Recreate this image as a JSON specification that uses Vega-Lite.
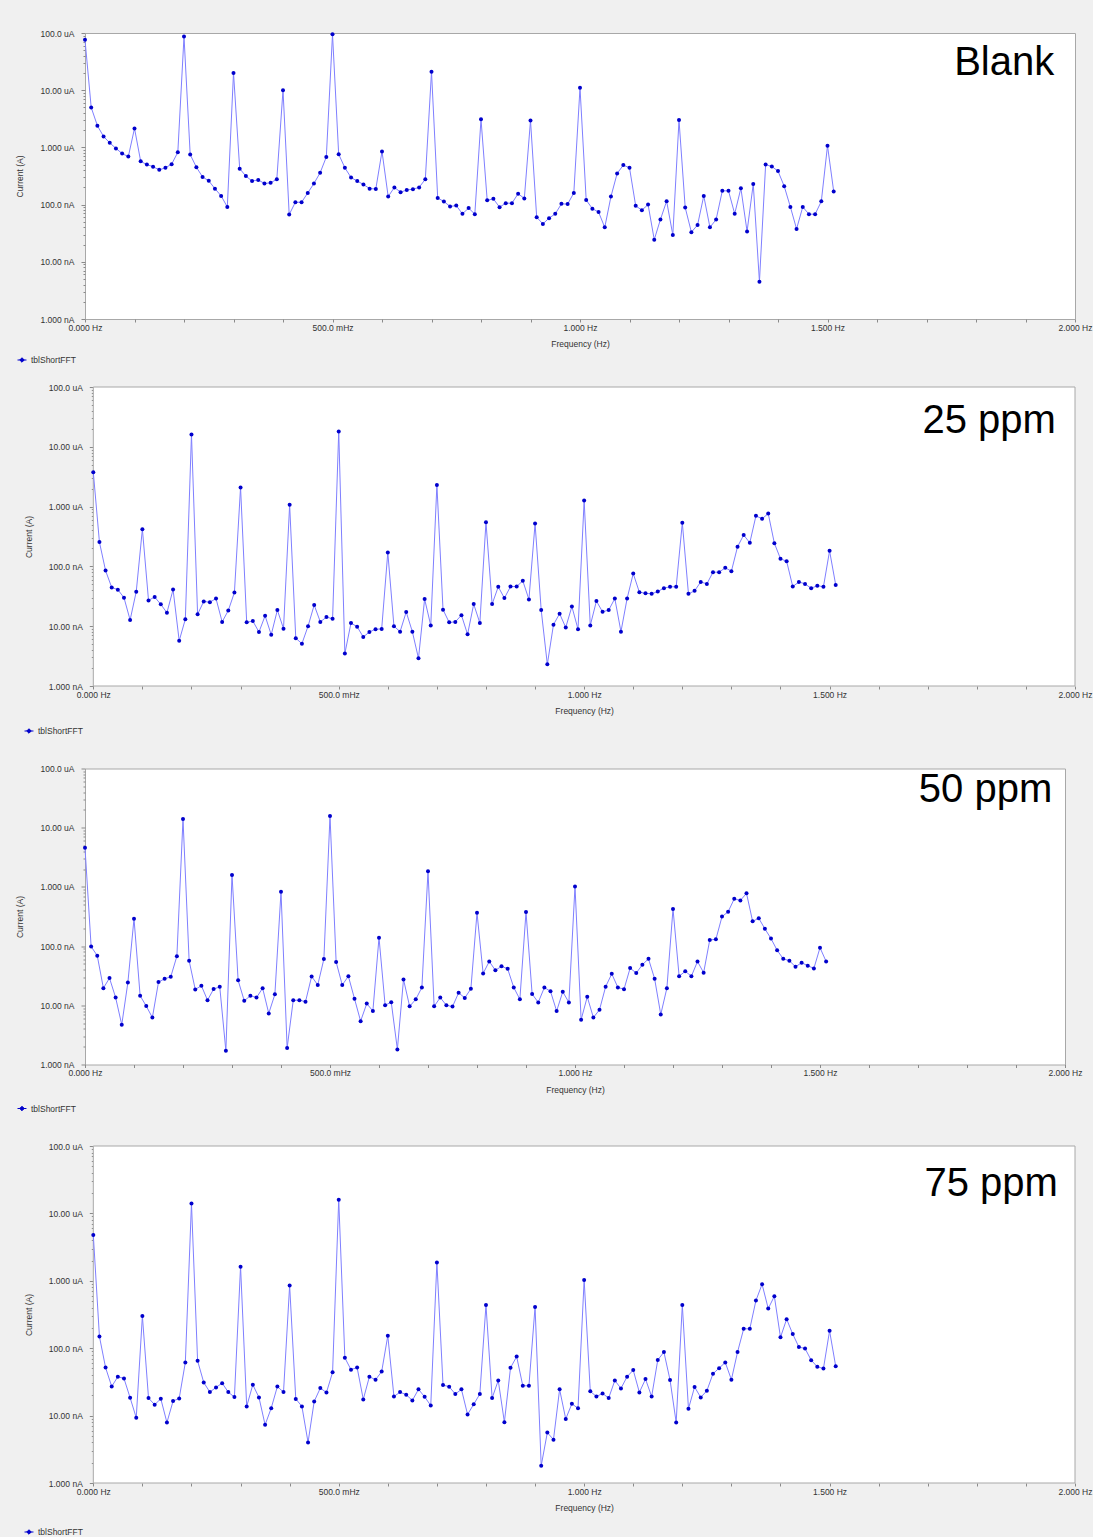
{
  "$schema": "https://vega.github.io/schema/vega-lite/v6.json",
  "background": "#f0f0f0",
  "padding": {"left": 15, "top": 28, "right": 0, "bottom": 0},
  "config": {
    "font": "Liberation Sans",
    "axis": {"labelFont": "Liberation Sans", "labelFontSize": 8.5, "labelColor": "#333333", "titleFont": "Liberation Sans", "titleFontSize": 8.5, "titleFontWeight": "normal", "titleColor": "#333333", "tickColor": "#8a8a8a", "grid": false, "domain": false},
    "view": {"fill": "white", "stroke": "#a8a8a8", "strokeWidth": 1},
    "legend": {"labelFont": "Liberation Sans", "labelFontSize": 8.5, "labelColor": "#333333", "padding": 0}
  },
  "datasets": {
    "blank": [
      {"freq":0,"current_nA":76000},{"freq":0.0125,"current_nA":5000},{"freq":0.025,"current_nA":2400},{"freq":0.0375,"current_nA":1550},{"freq":0.05,"current_nA":1200},{"freq":0.0625,"current_nA":960},{"freq":0.075,"current_nA":780},{"freq":0.0875,"current_nA":690},{"freq":0.1,"current_nA":2150},{"freq":0.1125,"current_nA":570},{"freq":0.125,"current_nA":500},{"freq":0.1375,"current_nA":460},{"freq":0.15,"current_nA":405},{"freq":0.1625,"current_nA":440},{"freq":0.175,"current_nA":510},{"freq":0.1875,"current_nA":820},{"freq":0.2,"current_nA":87000},{"freq":0.2125,"current_nA":750},{"freq":0.225,"current_nA":450},{"freq":0.2375,"current_nA":305},{"freq":0.25,"current_nA":260},{"freq":0.2625,"current_nA":190},{"freq":0.275,"current_nA":142},{"freq":0.2875,"current_nA":91},{"freq":0.3,"current_nA":20000},{"freq":0.3125,"current_nA":425},{"freq":0.325,"current_nA":315},{"freq":0.3375,"current_nA":258},{"freq":0.35,"current_nA":270},{"freq":0.3625,"current_nA":234},{"freq":0.375,"current_nA":240},{"freq":0.3875,"current_nA":278},{"freq":0.4,"current_nA":10000},{"freq":0.4125,"current_nA":67},{"freq":0.425,"current_nA":110},{"freq":0.4375,"current_nA":110},{"freq":0.45,"current_nA":160},{"freq":0.4625,"current_nA":234},{"freq":0.475,"current_nA":360},{"freq":0.4875,"current_nA":680},{"freq":0.5,"current_nA":95000},{"freq":0.5125,"current_nA":760},{"freq":0.525,"current_nA":440},{"freq":0.5375,"current_nA":297},{"freq":0.55,"current_nA":258},{"freq":0.5625,"current_nA":225},{"freq":0.575,"current_nA":190},{"freq":0.5875,"current_nA":188},{"freq":0.6,"current_nA":850},{"freq":0.6125,"current_nA":138},{"freq":0.625,"current_nA":200},{"freq":0.6375,"current_nA":165},{"freq":0.65,"current_nA":180},{"freq":0.6625,"current_nA":186},{"freq":0.675,"current_nA":200},{"freq":0.6875,"current_nA":278},{"freq":0.7,"current_nA":21000},{"freq":0.7125,"current_nA":131},{"freq":0.725,"current_nA":113},{"freq":0.7375,"current_nA":93},{"freq":0.75,"current_nA":96},{"freq":0.7625,"current_nA":69},{"freq":0.775,"current_nA":87},{"freq":0.7875,"current_nA":68},{"freq":0.8,"current_nA":3100},{"freq":0.8125,"current_nA":119},{"freq":0.825,"current_nA":126},{"freq":0.8375,"current_nA":90},{"freq":0.85,"current_nA":106},{"freq":0.8625,"current_nA":106},{"freq":0.875,"current_nA":155},{"freq":0.8875,"current_nA":128},{"freq":0.9,"current_nA":2950},{"freq":0.9125,"current_nA":60},{"freq":0.925,"current_nA":46},{"freq":0.9375,"current_nA":58},{"freq":0.95,"current_nA":69},{"freq":0.9625,"current_nA":103},{"freq":0.975,"current_nA":102},{"freq":0.9875,"current_nA":160},{"freq":1.0,"current_nA":11000},{"freq":1.0125,"current_nA":120},{"freq":1.025,"current_nA":85},{"freq":1.0375,"current_nA":74},{"freq":1.05,"current_nA":40},{"freq":1.0625,"current_nA":138},{"freq":1.075,"current_nA":350},{"freq":1.0875,"current_nA":490},{"freq":1.1,"current_nA":440},{"freq":1.1125,"current_nA":95},{"freq":1.125,"current_nA":80},{"freq":1.1375,"current_nA":100},{"freq":1.15,"current_nA":24.4},{"freq":1.1625,"current_nA":55},{"freq":1.175,"current_nA":115},{"freq":1.1875,"current_nA":29.5},{"freq":1.2,"current_nA":3000},{"freq":1.2125,"current_nA":89},{"freq":1.225,"current_nA":33},{"freq":1.2375,"current_nA":44},{"freq":1.25,"current_nA":142},{"freq":1.2625,"current_nA":40},{"freq":1.275,"current_nA":55},{"freq":1.2875,"current_nA":174},{"freq":1.3,"current_nA":174},{"freq":1.3125,"current_nA":69},{"freq":1.325,"current_nA":193},{"freq":1.3375,"current_nA":34},{"freq":1.35,"current_nA":230},{"freq":1.3625,"current_nA":4.5},{"freq":1.375,"current_nA":500},{"freq":1.3875,"current_nA":465},{"freq":1.4,"current_nA":385},{"freq":1.4125,"current_nA":210},{"freq":1.425,"current_nA":91},{"freq":1.4375,"current_nA":37.5},{"freq":1.45,"current_nA":91},{"freq":1.4625,"current_nA":68},{"freq":1.475,"current_nA":68},{"freq":1.4875,"current_nA":114},{"freq":1.5,"current_nA":1070},{"freq":1.5125,"current_nA":170}
    ],
    "ppm25": [
      {"freq":0,"current_nA":3750},{"freq":0.0125,"current_nA":255},{"freq":0.025,"current_nA":85},{"freq":0.0375,"current_nA":44.5},{"freq":0.05,"current_nA":40.8},{"freq":0.0625,"current_nA":30},{"freq":0.075,"current_nA":12.7},{"freq":0.0875,"current_nA":37.8},{"freq":0.1,"current_nA":420},{"freq":0.1125,"current_nA":27},{"freq":0.125,"current_nA":30.8},{"freq":0.1375,"current_nA":23.2},{"freq":0.15,"current_nA":16.8},{"freq":0.1625,"current_nA":41},{"freq":0.175,"current_nA":5.7},{"freq":0.1875,"current_nA":13.1},{"freq":0.2,"current_nA":16000},{"freq":0.2125,"current_nA":15.8},{"freq":0.225,"current_nA":26},{"freq":0.2375,"current_nA":25.2},{"freq":0.25,"current_nA":29},{"freq":0.2625,"current_nA":11.8},{"freq":0.275,"current_nA":18.3},{"freq":0.2875,"current_nA":36.6},{"freq":0.3,"current_nA":2090},{"freq":0.3125,"current_nA":11.6},{"freq":0.325,"current_nA":12.2},{"freq":0.3375,"current_nA":8},{"freq":0.35,"current_nA":14.9},{"freq":0.3625,"current_nA":7.2},{"freq":0.375,"current_nA":18.6},{"freq":0.3875,"current_nA":9.1},{"freq":0.4,"current_nA":1070},{"freq":0.4125,"current_nA":6.3},{"freq":0.425,"current_nA":5.1},{"freq":0.4375,"current_nA":10},{"freq":0.45,"current_nA":22.6},{"freq":0.4625,"current_nA":11.8},{"freq":0.475,"current_nA":14.2},{"freq":0.4875,"current_nA":13.3},{"freq":0.5,"current_nA":18000},{"freq":0.5125,"current_nA":3.5},{"freq":0.525,"current_nA":11.3},{"freq":0.5375,"current_nA":9.8},{"freq":0.55,"current_nA":6.6},{"freq":0.5625,"current_nA":8},{"freq":0.575,"current_nA":8.9},{"freq":0.5875,"current_nA":9},{"freq":0.6,"current_nA":171},{"freq":0.6125,"current_nA":10},{"freq":0.625,"current_nA":8.1},{"freq":0.6375,"current_nA":17.3},{"freq":0.65,"current_nA":8.1},{"freq":0.6625,"current_nA":2.9},{"freq":0.675,"current_nA":28.4},{"freq":0.6875,"current_nA":10.3},{"freq":0.7,"current_nA":2300},{"freq":0.7125,"current_nA":18.9},{"freq":0.725,"current_nA":11.6},{"freq":0.7375,"current_nA":11.8},{"freq":0.75,"current_nA":15.3},{"freq":0.7625,"current_nA":7.3},{"freq":0.775,"current_nA":23.4},{"freq":0.7875,"current_nA":11.3},{"freq":0.8,"current_nA":550},{"freq":0.8125,"current_nA":23.4},{"freq":0.825,"current_nA":45.6},{"freq":0.8375,"current_nA":29.5},{"freq":0.85,"current_nA":46},{"freq":0.8625,"current_nA":46},{"freq":0.875,"current_nA":57.5},{"freq":0.8875,"current_nA":28},{"freq":0.9,"current_nA":520},{"freq":0.9125,"current_nA":18.6},{"freq":0.925,"current_nA":2.3},{"freq":0.9375,"current_nA":10.6},{"freq":0.95,"current_nA":16.2},{"freq":0.9625,"current_nA":9.5},{"freq":0.975,"current_nA":21.4},{"freq":0.9875,"current_nA":8.9},{"freq":1.0,"current_nA":1260},{"freq":1.0125,"current_nA":10.3},{"freq":1.025,"current_nA":26.3},{"freq":1.0375,"current_nA":17.4},{"freq":1.05,"current_nA":18.6},{"freq":1.0625,"current_nA":29},{"freq":1.075,"current_nA":8.1},{"freq":1.0875,"current_nA":29},{"freq":1.1,"current_nA":76},{"freq":1.1125,"current_nA":37},{"freq":1.125,"current_nA":35.6},{"freq":1.1375,"current_nA":34.8},{"freq":1.15,"current_nA":38},{"freq":1.1625,"current_nA":43.3},{"freq":1.175,"current_nA":45.6},{"freq":1.1875,"current_nA":45.6},{"freq":1.2,"current_nA":535},{"freq":1.2125,"current_nA":34.8},{"freq":1.225,"current_nA":39},{"freq":1.2375,"current_nA":55},{"freq":1.25,"current_nA":51},{"freq":1.2625,"current_nA":80},{"freq":1.275,"current_nA":80},{"freq":1.2875,"current_nA":95},{"freq":1.3,"current_nA":83},{"freq":1.3125,"current_nA":213},{"freq":1.325,"current_nA":335},{"freq":1.3375,"current_nA":248},{"freq":1.35,"current_nA":700},{"freq":1.3625,"current_nA":625},{"freq":1.375,"current_nA":765},{"freq":1.3875,"current_nA":245},{"freq":1.4,"current_nA":134},{"freq":1.4125,"current_nA":122},{"freq":1.425,"current_nA":46},{"freq":1.4375,"current_nA":55},{"freq":1.45,"current_nA":51},{"freq":1.4625,"current_nA":43},{"freq":1.475,"current_nA":47.6},{"freq":1.4875,"current_nA":45.6},{"freq":1.5,"current_nA":182},{"freq":1.5125,"current_nA":49}
    ],
    "ppm50": [
      {"freq":0,"current_nA":4600},{"freq":0.0125,"current_nA":98},{"freq":0.025,"current_nA":69},{"freq":0.0375,"current_nA":19.5},{"freq":0.05,"current_nA":28.8},{"freq":0.0625,"current_nA":13.5},{"freq":0.075,"current_nA":4.7},{"freq":0.0875,"current_nA":24.3},{"freq":0.1,"current_nA":290},{"freq":0.1125,"current_nA":14.5},{"freq":0.125,"current_nA":9.7},{"freq":0.1375,"current_nA":6.2},{"freq":0.15,"current_nA":24.7},{"freq":0.1625,"current_nA":28},{"freq":0.175,"current_nA":30.3},{"freq":0.1875,"current_nA":67.5},{"freq":0.2,"current_nA":14000},{"freq":0.2125,"current_nA":56.5},{"freq":0.225,"current_nA":18.5},{"freq":0.2375,"current_nA":21.4},{"freq":0.25,"current_nA":12.2},{"freq":0.2625,"current_nA":18.8},{"freq":0.275,"current_nA":20.5},{"freq":0.2875,"current_nA":1.7},{"freq":0.3,"current_nA":1590},{"freq":0.3125,"current_nA":26.4},{"freq":0.325,"current_nA":11.9},{"freq":0.3375,"current_nA":14.5},{"freq":0.35,"current_nA":13.5},{"freq":0.3625,"current_nA":19.5},{"freq":0.375,"current_nA":7.3},{"freq":0.3875,"current_nA":15.3},{"freq":0.4,"current_nA":830},{"freq":0.4125,"current_nA":1.9},{"freq":0.425,"current_nA":12.2},{"freq":0.4375,"current_nA":12.2},{"freq":0.45,"current_nA":11.5},{"freq":0.4625,"current_nA":30.8},{"freq":0.475,"current_nA":22},{"freq":0.4875,"current_nA":60.5},{"freq":0.5,"current_nA":15800},{"freq":0.5125,"current_nA":54},{"freq":0.525,"current_nA":22},{"freq":0.5375,"current_nA":31},{"freq":0.55,"current_nA":12.9},{"freq":0.5625,"current_nA":5.4},{"freq":0.575,"current_nA":10.7},{"freq":0.5875,"current_nA":8},{"freq":0.6,"current_nA":139},{"freq":0.6125,"current_nA":10},{"freq":0.625,"current_nA":11.3},{"freq":0.6375,"current_nA":1.8},{"freq":0.65,"current_nA":27.4},{"freq":0.6625,"current_nA":9.6},{"freq":0.675,"current_nA":12.6},{"freq":0.6875,"current_nA":20},{"freq":0.7,"current_nA":1830},{"freq":0.7125,"current_nA":9.6},{"freq":0.725,"current_nA":13.5},{"freq":0.7375,"current_nA":10},{"freq":0.75,"current_nA":9.5},{"freq":0.7625,"current_nA":16.3},{"freq":0.775,"current_nA":13.3},{"freq":0.7875,"current_nA":19},{"freq":0.8,"current_nA":365},{"freq":0.8125,"current_nA":34.5},{"freq":0.825,"current_nA":55},{"freq":0.8375,"current_nA":39},{"freq":0.85,"current_nA":45.5},{"freq":0.8625,"current_nA":41.5},{"freq":0.875,"current_nA":20},{"freq":0.8875,"current_nA":12.6},{"freq":0.9,"current_nA":377},{"freq":0.9125,"current_nA":15.5},{"freq":0.925,"current_nA":11.2},{"freq":0.9375,"current_nA":20},{"freq":0.95,"current_nA":17.2},{"freq":0.9625,"current_nA":8},{"freq":0.975,"current_nA":16.9},{"freq":0.9875,"current_nA":11.2},{"freq":1.0,"current_nA":1020},{"freq":1.0125,"current_nA":5.7},{"freq":1.025,"current_nA":13.9},{"freq":1.0375,"current_nA":6.2},{"freq":1.05,"current_nA":8.4},{"freq":1.0625,"current_nA":20.6},{"freq":1.075,"current_nA":34},{"freq":1.0875,"current_nA":20},{"freq":1.1,"current_nA":18.7},{"freq":1.1125,"current_nA":42.5},{"freq":1.125,"current_nA":35},{"freq":1.1375,"current_nA":48.5},{"freq":1.15,"current_nA":61},{"freq":1.1625,"current_nA":28},{"freq":1.175,"current_nA":7},{"freq":1.1875,"current_nA":19.5},{"freq":1.2,"current_nA":425},{"freq":1.2125,"current_nA":31},{"freq":1.225,"current_nA":37.5},{"freq":1.2375,"current_nA":31},{"freq":1.25,"current_nA":55},{"freq":1.2625,"current_nA":35.5},{"freq":1.275,"current_nA":127},{"freq":1.2875,"current_nA":130},{"freq":1.3,"current_nA":315},{"freq":1.3125,"current_nA":380},{"freq":1.325,"current_nA":630},{"freq":1.3375,"current_nA":590},{"freq":1.35,"current_nA":780},{"freq":1.3625,"current_nA":262},{"freq":1.375,"current_nA":295},{"freq":1.3875,"current_nA":196},{"freq":1.4,"current_nA":134},{"freq":1.4125,"current_nA":85},{"freq":1.425,"current_nA":61},{"freq":1.4375,"current_nA":56.5},{"freq":1.45,"current_nA":44.7},{"freq":1.4625,"current_nA":52.4},{"freq":1.475,"current_nA":46.6},{"freq":1.4875,"current_nA":42},{"freq":1.5,"current_nA":94},{"freq":1.5125,"current_nA":55}
    ],
    "ppm75": [
      {"freq":0,"current_nA":4800},{"freq":0.0125,"current_nA":149},{"freq":0.025,"current_nA":51.6},{"freq":0.0375,"current_nA":27},{"freq":0.05,"current_nA":37.8},{"freq":0.0625,"current_nA":35.6},{"freq":0.075,"current_nA":18.4},{"freq":0.0875,"current_nA":9.3},{"freq":0.1,"current_nA":300},{"freq":0.1125,"current_nA":18.2},{"freq":0.125,"current_nA":14.5},{"freq":0.1375,"current_nA":17.8},{"freq":0.15,"current_nA":7.9},{"freq":0.1625,"current_nA":16.4},{"freq":0.175,"current_nA":18},{"freq":0.1875,"current_nA":61.5},{"freq":0.2,"current_nA":14000},{"freq":0.2125,"current_nA":65},{"freq":0.225,"current_nA":31},{"freq":0.2375,"current_nA":22.3},{"freq":0.25,"current_nA":26.2},{"freq":0.2625,"current_nA":30.3},{"freq":0.275,"current_nA":22.3},{"freq":0.2875,"current_nA":18.8},{"freq":0.3,"current_nA":1620},{"freq":0.3125,"current_nA":13.7},{"freq":0.325,"current_nA":28.7},{"freq":0.3375,"current_nA":18.6},{"freq":0.35,"current_nA":7.3},{"freq":0.3625,"current_nA":12.9},{"freq":0.375,"current_nA":27},{"freq":0.3875,"current_nA":22.3},{"freq":0.4,"current_nA":850},{"freq":0.4125,"current_nA":17.7},{"freq":0.425,"current_nA":13.7},{"freq":0.4375,"current_nA":4},{"freq":0.45,"current_nA":16.2},{"freq":0.4625,"current_nA":25.6},{"freq":0.475,"current_nA":22},{"freq":0.4875,"current_nA":44},{"freq":0.5,"current_nA":16000},{"freq":0.5125,"current_nA":72},{"freq":0.525,"current_nA":48},{"freq":0.5375,"current_nA":51.6},{"freq":0.55,"current_nA":17.4},{"freq":0.5625,"current_nA":37.8},{"freq":0.575,"current_nA":34},{"freq":0.5875,"current_nA":45},{"freq":0.6,"current_nA":153},{"freq":0.6125,"current_nA":19.2},{"freq":0.625,"current_nA":22.3},{"freq":0.6375,"current_nA":20.4},{"freq":0.65,"current_nA":16.8},{"freq":0.6625,"current_nA":24.5},{"freq":0.675,"current_nA":19},{"freq":0.6875,"current_nA":14.1},{"freq":0.7,"current_nA":1870},{"freq":0.7125,"current_nA":28.4},{"freq":0.725,"current_nA":26.8},{"freq":0.7375,"current_nA":20.9},{"freq":0.75,"current_nA":24.5},{"freq":0.7625,"current_nA":10.4},{"freq":0.775,"current_nA":14.7},{"freq":0.7875,"current_nA":20.9},{"freq":0.8,"current_nA":436},{"freq":0.8125,"current_nA":18.2},{"freq":0.825,"current_nA":33.2},{"freq":0.8375,"current_nA":8},{"freq":0.85,"current_nA":51.3},{"freq":0.8625,"current_nA":75},{"freq":0.875,"current_nA":27.7},{"freq":0.8875,"current_nA":27.7},{"freq":0.9,"current_nA":410},{"freq":0.9125,"current_nA":1.8},{"freq":0.925,"current_nA":5.6},{"freq":0.9375,"current_nA":4.4},{"freq":0.95,"current_nA":24.5},{"freq":0.9625,"current_nA":8.9},{"freq":0.975,"current_nA":15},{"freq":0.9875,"current_nA":12.8},{"freq":1.0,"current_nA":1030},{"freq":1.0125,"current_nA":22.9},{"freq":1.025,"current_nA":19.2},{"freq":1.0375,"current_nA":21.3},{"freq":1.05,"current_nA":18.2},{"freq":1.0625,"current_nA":33.2},{"freq":1.075,"current_nA":25.3},{"freq":1.0875,"current_nA":37.8},{"freq":1.1,"current_nA":47.3},{"freq":1.1125,"current_nA":22.1},{"freq":1.125,"current_nA":34.8},{"freq":1.1375,"current_nA":19.2},{"freq":1.15,"current_nA":67},{"freq":1.1625,"current_nA":87.6},{"freq":1.175,"current_nA":33.7},{"freq":1.1875,"current_nA":7.9},{"freq":1.2,"current_nA":436},{"freq":1.2125,"current_nA":12.6},{"freq":1.225,"current_nA":26.6},{"freq":1.2375,"current_nA":18.6},{"freq":1.25,"current_nA":23.4},{"freq":1.2625,"current_nA":41.8},{"freq":1.275,"current_nA":50.6},{"freq":1.2875,"current_nA":61.5},{"freq":1.3,"current_nA":34.1},{"freq":1.3125,"current_nA":87.6},{"freq":1.325,"current_nA":194},{"freq":1.3375,"current_nA":194},{"freq":1.35,"current_nA":510},{"freq":1.3625,"current_nA":890},{"freq":1.375,"current_nA":387},{"freq":1.3875,"current_nA":590},{"freq":1.4,"current_nA":145},{"freq":1.4125,"current_nA":270},{"freq":1.425,"current_nA":162},{"freq":1.4375,"current_nA":104},{"freq":1.45,"current_nA":99},{"freq":1.4625,"current_nA":66.5},{"freq":1.475,"current_nA":53},{"freq":1.4875,"current_nA":50},{"freq":1.5,"current_nA":181},{"freq":1.5125,"current_nA":54}
    ]
  },
  "columns": 1,
  "spacing": 17,
  "resolve": {"scale": {"color": "independent"}, "legend": {"color": "independent"}},
  "concat": [
    {
      "width": 990, "height": 286,
      "layer": [
        {"data": {"name": "blank"}, "mark": {"type": "line", "color": "#7f7fff", "strokeWidth": 1},
         "encoding": {
           "x": {"field": "freq", "type": "quantitative", "scale": {"domain": [0, 2], "nice": false, "zero": false},
                 "axis": {"title": "Frequency (Hz)", "values": [0,0.1,0.2,0.3,0.4,0.5,0.6,0.7,0.8,0.9,1,1.1,1.2,1.3,1.4,1.5,1.6,1.7,1.8,1.9,2], "labelExpr": "datum.value == 0 ? '0.000 Hz' : datum.value == 0.5 ? '500.0 mHz' : datum.value == 1 ? '1.000 Hz' : datum.value == 1.5 ? '1.500 Hz' : datum.value == 2 ? '2.000 Hz' : ''", "labelFlush": false, "labelOverlap": false, "tickSize": 3, "labelPadding": 1, "titlePadding": 8}},
           "y": {"field": "current_nA", "type": "quantitative", "scale": {"type": "log", "domain": [1, 100000], "nice": false},
                 "axis": {"title": "Current (A)", "values": [1,2,3,4,5,6,7,8,9,10,20,30,40,50,60,70,80,90,100,200,300,400,500,600,700,800,900,1000,2000,3000,4000,5000,6000,7000,8000,9000,10000,20000,30000,40000,50000,60000,70000,80000,90000,100000], "labelExpr": "datum.value == 100000 ? '100.0 uA' : datum.value == 10000 ? '10.00 uA' : datum.value == 1000 ? '1.000 uA' : datum.value == 100 ? '100.0 nA' : datum.value == 10 ? '10.00 nA' : datum.value == 1 ? '1.000 nA' : ''", "labelOverlap": false, "tickSize": {"condition": {"test": "datum.value == 1 || datum.value == 10 || datum.value == 100 || datum.value == 1000 || datum.value == 10000 || datum.value == 100000", "value": 4}, "value": 2}, "labelPadding": 7, "titlePadding": 15}}
         }},
        {"data": {"name": "blank"}, "mark": {"type": "point", "filled": true, "size": 16, "opacity": 1},
         "encoding": {
           "x": {"field": "freq", "type": "quantitative"},
           "y": {"field": "current_nA", "type": "quantitative"},
           "color": {"datum": "tblShortFFT", "type": "nominal", "scale": {"range": ["#0000cc"]},
                     "legend": {"orient": "none", "legendX": -68, "legendY": 322, "title": null, "symbolType": "M-1,0H1M0,-0.5L0.5,0L0,0.5L-0.5,0Z", "symbolSize": 80, "symbolStrokeColor": "#0000cc", "symbolStrokeWidth": 1}}
         }},
        {"data": {"values": [{"label": "Blank"}]}, "mark": {"type": "text", "fontSize": 40, "align": "right", "baseline": "alphabetic", "color": "black", "font": "Liberation Sans"},
         "encoding": {"x": {"datum": 1.958, "type": "quantitative"}, "y": {"datum": 18600, "type": "quantitative"}, "text": {"field": "label"}}}
      ]
    },
    {
      "columns": 1,
      "spacing": 27.5,
      "resolve": {"scale": {"color": "independent"}, "legend": {"color": "independent"}},
      "concat": [
        {
          "width": 990, "height": 299,
          "view": {"fill": null, "stroke": null},
          "layer": [
            {"data": {"values": [{}]}, "mark": {"type": "rect", "fill": "white", "stroke": "#a8a8a8", "strokeWidth": 1},
             "encoding": {"x": {"datum": 0, "type": "quantitative"}, "x2": {"datum": 2}, "y": {"datum": 1, "type": "quantitative"}, "y2": {"datum": 100000}}},
            {"data": {"name": "ppm25"}, "mark": {"type": "line", "color": "#7f7fff", "strokeWidth": 1},
             "encoding": {
               "x": {"field": "freq", "type": "quantitative", "scale": {"domain": [0, 2], "range": [8.3, 990], "nice": false, "zero": false},
                     "axis": {"title": "Frequency (Hz)", "values": [0,0.1,0.2,0.3,0.4,0.5,0.6,0.7,0.8,0.9,1,1.1,1.2,1.3,1.4,1.5,1.6,1.7,1.8,1.9,2], "labelExpr": "datum.value == 0 ? '0.000 Hz' : datum.value == 0.5 ? '500.0 mHz' : datum.value == 1 ? '1.000 Hz' : datum.value == 1.5 ? '1.500 Hz' : datum.value == 2 ? '2.000 Hz' : ''", "labelFlush": false, "labelOverlap": false, "tickSize": 3, "labelPadding": 1, "titlePadding": 8}},
               "y": {"field": "current_nA", "type": "quantitative", "scale": {"type": "log", "domain": [1, 100000], "nice": false},
                     "axis": {"title": "Current (A)", "offset": -8.3, "values": [1,2,3,4,5,6,7,8,9,10,20,30,40,50,60,70,80,90,100,200,300,400,500,600,700,800,900,1000,2000,3000,4000,5000,6000,7000,8000,9000,10000,20000,30000,40000,50000,60000,70000,80000,90000,100000], "labelExpr": "datum.value == 100000 ? '100.0 uA' : datum.value == 10000 ? '10.00 uA' : datum.value == 1000 ? '1.000 uA' : datum.value == 100 ? '100.0 nA' : datum.value == 10 ? '10.00 nA' : datum.value == 1 ? '1.000 nA' : ''", "labelOverlap": false, "tickSize": {"condition": {"test": "datum.value == 1 || datum.value == 10 || datum.value == 100 || datum.value == 1000 || datum.value == 10000 || datum.value == 100000", "value": 4}, "value": 2}, "labelPadding": 7, "titlePadding": 15}}
             }},
            {"data": {"name": "ppm25"}, "mark": {"type": "point", "filled": true, "size": 16, "opacity": 1},
             "encoding": {
               "x": {"field": "freq", "type": "quantitative"},
               "y": {"field": "current_nA", "type": "quantitative"},
               "color": {"datum": "tblShortFFT", "type": "nominal", "scale": {"range": ["#0000cc"]},
                         "legend": {"orient": "none", "legendX": -61, "legendY": 339, "title": null, "symbolType": "M-1,0H1M0,-0.5L0.5,0L0,0.5L-0.5,0Z", "symbolSize": 80, "symbolStrokeColor": "#0000cc", "symbolStrokeWidth": 1}}
             }},
            {"data": {"values": [{"label": "25 ppm"}]}, "mark": {"type": "text", "fontSize": 40, "align": "right", "baseline": "alphabetic", "color": "black", "font": "Liberation Sans"},
             "encoding": {"x": {"datum": 1.961, "type": "quantitative"}, "y": {"datum": 17200, "type": "quantitative"}, "text": {"field": "label"}}}
          ]
        },
        {
          "width": 980, "height": 296,
          "layer": [
            {"data": {"name": "ppm50"}, "mark": {"type": "line", "color": "#7f7fff", "strokeWidth": 1},
             "encoding": {
               "x": {"field": "freq", "type": "quantitative", "scale": {"domain": [0, 2], "nice": false, "zero": false},
                     "axis": {"title": "Frequency (Hz)", "values": [0,0.1,0.2,0.3,0.4,0.5,0.6,0.7,0.8,0.9,1,1.1,1.2,1.3,1.4,1.5,1.6,1.7,1.8,1.9,2], "labelExpr": "datum.value == 0 ? '0.000 Hz' : datum.value == 0.5 ? '500.0 mHz' : datum.value == 1 ? '1.000 Hz' : datum.value == 1.5 ? '1.500 Hz' : datum.value == 2 ? '2.000 Hz' : ''", "labelFlush": false, "labelOverlap": false, "tickSize": 3, "labelPadding": 1, "titlePadding": 8}},
               "y": {"field": "current_nA", "type": "quantitative", "scale": {"type": "log", "domain": [1, 100000], "nice": false},
                     "axis": {"title": "Current (A)", "values": [1,2,3,4,5,6,7,8,9,10,20,30,40,50,60,70,80,90,100,200,300,400,500,600,700,800,900,1000,2000,3000,4000,5000,6000,7000,8000,9000,10000,20000,30000,40000,50000,60000,70000,80000,90000,100000], "labelExpr": "datum.value == 100000 ? '100.0 uA' : datum.value == 10000 ? '10.00 uA' : datum.value == 1000 ? '1.000 uA' : datum.value == 100 ? '100.0 nA' : datum.value == 10 ? '10.00 nA' : datum.value == 1 ? '1.000 nA' : ''", "labelOverlap": false, "tickSize": {"condition": {"test": "datum.value == 1 || datum.value == 10 || datum.value == 100 || datum.value == 1000 || datum.value == 10000 || datum.value == 100000", "value": 4}, "value": 2}, "labelPadding": 7, "titlePadding": 15}}
             }},
            {"data": {"name": "ppm50"}, "mark": {"type": "point", "filled": true, "size": 16, "opacity": 1},
             "encoding": {
               "x": {"field": "freq", "type": "quantitative"},
               "y": {"field": "current_nA", "type": "quantitative"},
               "color": {"datum": "tblShortFFT", "type": "nominal", "scale": {"range": ["#0000cc"]},
                         "legend": {"orient": "none", "legendX": -68, "legendY": 335, "title": null, "symbolType": "M-1,0H1M0,-0.5L0.5,0L0,0.5L-0.5,0Z", "symbolSize": 80, "symbolStrokeColor": "#0000cc", "symbolStrokeWidth": 1}}
             }},
            {"data": {"values": [{"label": "50 ppm"}]}, "mark": {"type": "text", "fontSize": 40, "align": "right", "baseline": "alphabetic", "color": "black", "font": "Liberation Sans"},
             "encoding": {"x": {"datum": 1.974, "type": "quantitative"}, "y": {"datum": 27000, "type": "quantitative"}, "text": {"field": "label"}}}
          ]
        },
        {
          "width": 990, "height": 337,
          "view": {"fill": null, "stroke": null},
          "layer": [
            {"data": {"values": [{}]}, "mark": {"type": "rect", "fill": "white", "stroke": "#a8a8a8", "strokeWidth": 1},
             "encoding": {"x": {"datum": 0, "type": "quantitative"}, "x2": {"datum": 2}, "y": {"datum": 1, "type": "quantitative"}, "y2": {"datum": 100000}}},
            {"data": {"name": "ppm75"}, "mark": {"type": "line", "color": "#7f7fff", "strokeWidth": 1},
             "encoding": {
               "x": {"field": "freq", "type": "quantitative", "scale": {"domain": [0, 2], "range": [8.3, 990], "nice": false, "zero": false},
                     "axis": {"title": "Frequency (Hz)", "values": [0,0.1,0.2,0.3,0.4,0.5,0.6,0.7,0.8,0.9,1,1.1,1.2,1.3,1.4,1.5,1.6,1.7,1.8,1.9,2], "labelExpr": "datum.value == 0 ? '0.000 Hz' : datum.value == 0.5 ? '500.0 mHz' : datum.value == 1 ? '1.000 Hz' : datum.value == 1.5 ? '1.500 Hz' : datum.value == 2 ? '2.000 Hz' : ''", "labelFlush": false, "labelOverlap": false, "tickSize": 3, "labelPadding": 1, "titlePadding": 8}},
               "y": {"field": "current_nA", "type": "quantitative", "scale": {"type": "log", "domain": [1, 100000], "nice": false},
                     "axis": {"title": "Current (A)", "offset": -8.3, "values": [1,2,3,4,5,6,7,8,9,10,20,30,40,50,60,70,80,90,100,200,300,400,500,600,700,800,900,1000,2000,3000,4000,5000,6000,7000,8000,9000,10000,20000,30000,40000,50000,60000,70000,80000,90000,100000], "labelExpr": "datum.value == 100000 ? '100.0 uA' : datum.value == 10000 ? '10.00 uA' : datum.value == 1000 ? '1.000 uA' : datum.value == 100 ? '100.0 nA' : datum.value == 10 ? '10.00 nA' : datum.value == 1 ? '1.000 nA' : ''", "labelOverlap": false, "tickSize": {"condition": {"test": "datum.value == 1 || datum.value == 10 || datum.value == 100 || datum.value == 1000 || datum.value == 10000 || datum.value == 100000", "value": 4}, "value": 2}, "labelPadding": 7, "titlePadding": 15}}
             }},
            {"data": {"name": "ppm75"}, "mark": {"type": "point", "filled": true, "size": 16, "opacity": 1},
             "encoding": {
               "x": {"field": "freq", "type": "quantitative"},
               "y": {"field": "current_nA", "type": "quantitative"},
               "color": {"datum": "tblShortFFT", "type": "nominal", "scale": {"range": ["#0000cc"]},
                         "legend": {"orient": "none", "legendX": -61, "legendY": 381, "title": null, "symbolType": "M-1,0H1M0,-0.5L0.5,0L0,0.5L-0.5,0Z", "symbolSize": 80, "symbolStrokeColor": "#0000cc", "symbolStrokeWidth": 1}}
             }},
            {"data": {"values": [{"label": "75 ppm"}]}, "mark": {"type": "text", "fontSize": 40, "align": "right", "baseline": "alphabetic", "color": "black", "font": "Liberation Sans"},
             "encoding": {"x": {"datum": 1.965, "type": "quantitative"}, "y": {"datum": 18200, "type": "quantitative"}, "text": {"field": "label"}}}
          ]
        }
      ]
    }
  ]
}
